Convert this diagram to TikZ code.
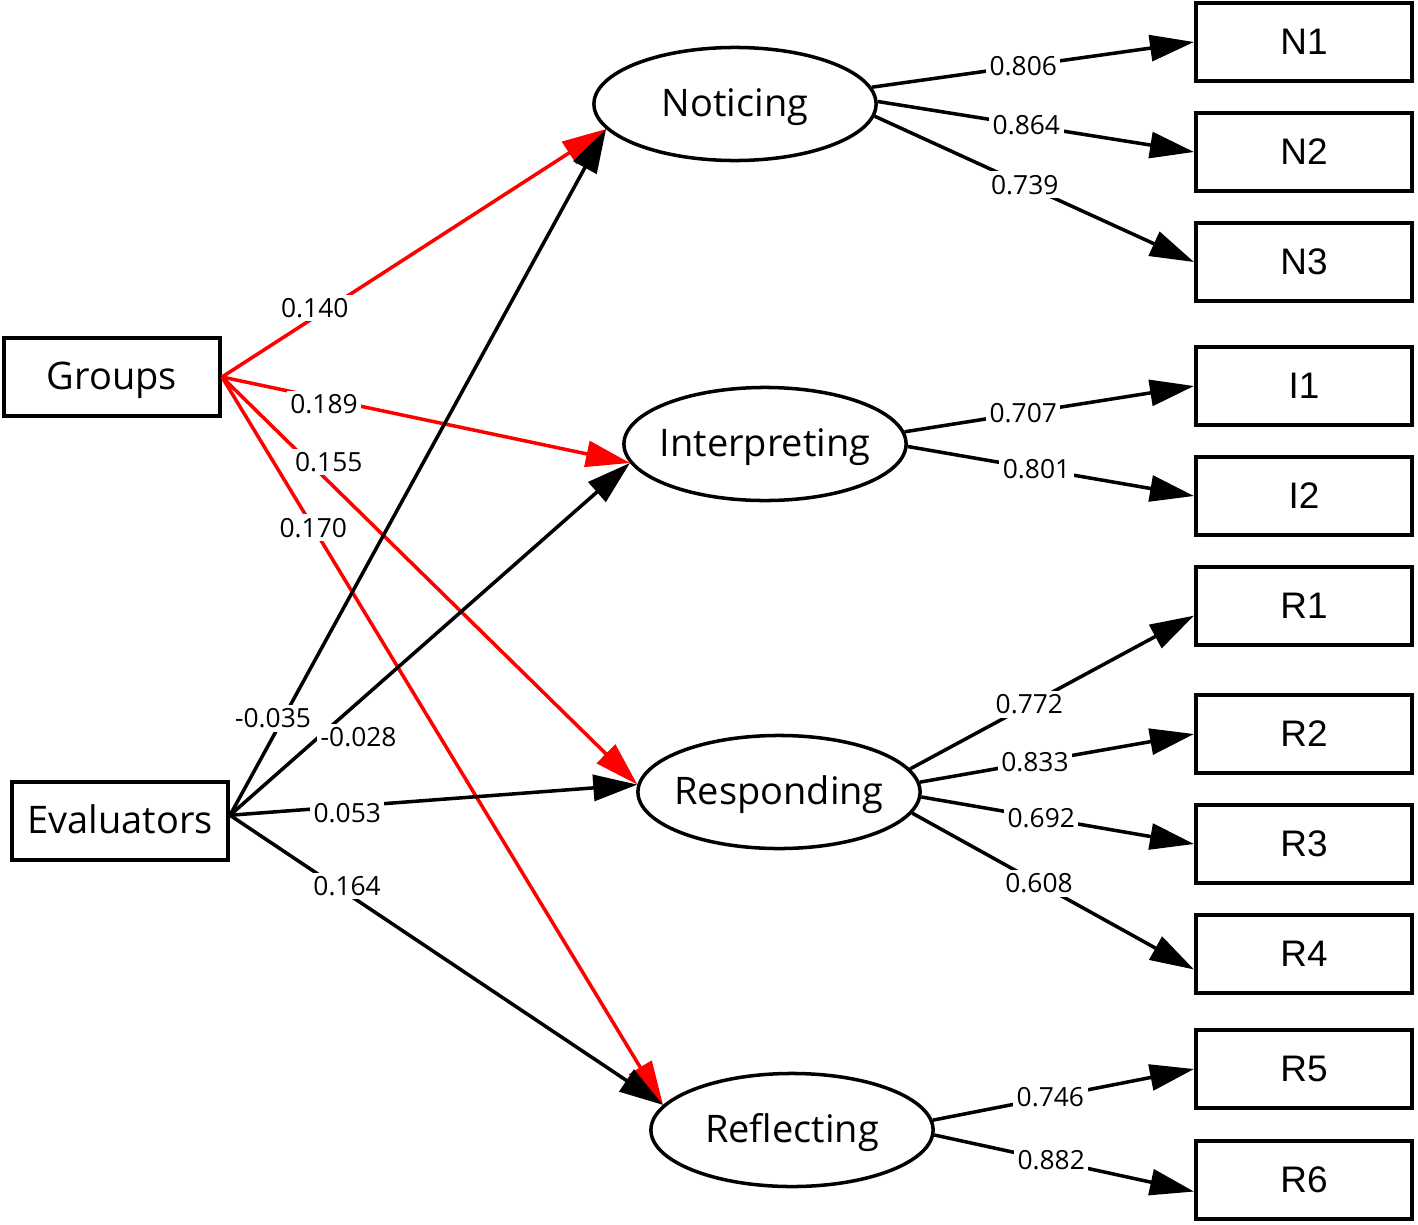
\documentclass[tikz,border=0pt]{standalone}
\usepackage{fontspec}
\setmainfont{Open Sans}
\newfontfamily\arialfont{Liberation Sans}
\usetikzlibrary{arrows.meta,shapes.geometric}
\tikzset{
  obs/.style={draw,line width=1.1pt,minimum width=2.16cm,minimum height=0.78cm,inner sep=0pt,text height=0.72em,text depth=0pt,font=\fontsize{10.8}{13}\selectfont},
  ind/.style={obs,font=\arialfont\fontsize{10.5}{12}\selectfont},
  lat/.style={draw,ellipse,line width=1pt,minimum width=2.82cm,minimum height=1.13cm,inner xsep=-3pt,inner ysep=0pt,text height=0.72em,text depth=0pt,font=\fontsize{10.8}{13}\selectfont},
  lnk/.style={line width=1pt,-{Triangle[length=4.4mm,width=2.6mm]}},
  grp/.style={lnk,red},
  coef/.style={fill=white,text=black,inner sep=1pt,font=\fontsize{7.5}{9}\selectfont},
}
\begin{document}
\begin{tikzpicture}[x=0.01cm,y=-0.01cm]
\useasboundingbox(0,0)rectangle(1418,1224);
%observed
\node[obs](Groups)at(112,377){Groups};
\node[obs](Evaluators)at(120,821){Evaluators};
%latent
\node[lat](Noticing)at(735,104){Noticing};
\node[lat](Interpreting)at(765,444){Interpreting};
\node[lat](Responding)at(779,792){Responding};
\node[lat](Reflecting)at(792,1130){Reflecting};
%indicators
\foreach \n/\y in {N1/42,N2/152,N3/262,I1/386,I2/496,R1/606,R2/734,R3/844,R4/954,R5/1069,R6/1180}{\node[ind](\n)at(1304,\y){\n};}
%regressions
\draw[grp](Groups.east)--(Noticing.191)node[coef,pos=.278,xshift=-1.4mm]{0.140};
\draw[grp](Groups.east)--(Interpreting.188)node[coef,pos=.25,yshift=-.6mm]{0.189};
\draw[grp](Groups.east)--(Responding.177)node[coef,pos=.209,xshift=2mm]{0.155};
\draw[grp](Groups.east)--(Reflecting.169)node[coef,pos=.207]{0.170};
\draw[lnk](Evaluators.3)--(Noticing.191)node[coef,pos=.141,xshift=-1mm]{-0.035};
\draw[lnk](Evaluators.3)--(Interpreting.188)node[coef,pos=.249,xshift=2.9mm,yshift=-1mm]{-0.028};
\draw[lnk](Evaluators.3)--(Responding.177)node[coef,pos=.288,yshift=-.7mm]{0.053};
\draw[lnk](Evaluators.3)--(Reflecting.169)node[coef,pos=.245,xshift=1.1mm]{0.164};
%loadings
\foreach \f/\a/\t/\p/\v in {Noticing/7/N1.west/.47/0.806,Noticing/1/N2.west/.47/0.864,Noticing/-5/N3.west/.47/0.739,
  Interpreting/5/I1.west/.41/0.707,Interpreting/-1/I2.west/.45/0.801,
  Responding/10/R1.185/.42/0.772,Responding/4/R2.west/.42/0.833,Responding/-2/R3.west/.44/0.692,Responding/-9/R4.188/.45/0.608,
  Reflecting/4/R5.west/.45/0.746,Reflecting/-2/R6.186/.45/0.882}
  {\draw[lnk](\f.\a)--(\t)node[coef,pos=\p]{\v};}
\end{tikzpicture}
\end{document}
